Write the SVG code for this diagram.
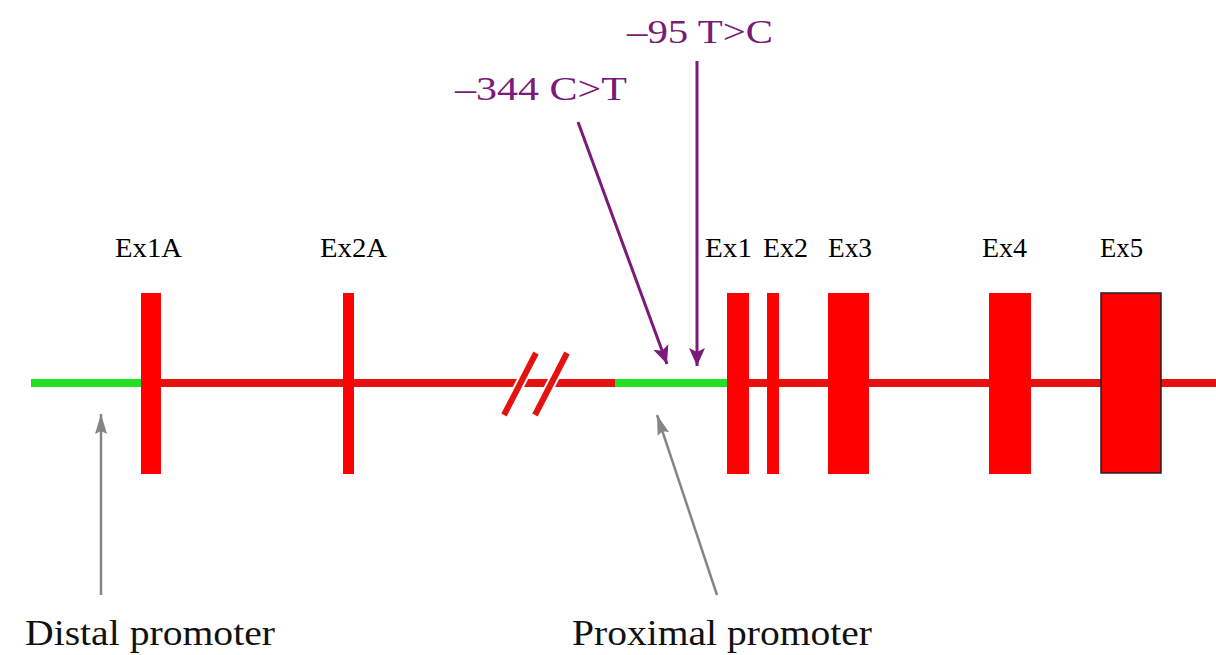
<svg xmlns="http://www.w3.org/2000/svg" width="1216" height="655" viewBox="0 0 1216 655">
<style>
.lbl{font-family:"Liberation Serif","Times New Roman",serif;font-size:27px;fill:#000}
.mut{font-family:"Liberation Serif","Times New Roman",serif;font-size:34px;fill:#7a1a7a}
.prom{font-family:"Liberation Serif","Times New Roman",serif;font-size:36px;fill:#111}
.exon{fill:#ff0000}
.red{stroke:#e51212;stroke-width:8;fill:none}
.green{stroke:#22e022;stroke-width:8;fill:none}
.purple{stroke:#7a1a7a;stroke-width:3;fill:none}
.gray{stroke:#858585;stroke-width:2.5;fill:none}
</style>
<defs>
<marker id="ap" markerUnits="userSpaceOnUse" markerWidth="18" markerHeight="18" viewBox="0 0 18 18" refX="18" refY="9" orient="auto">
<path d="M0,1 L18,9 L0,17 L4,9 Z" fill="#7a1a7a"/>
</marker>
<marker id="ag" markerUnits="userSpaceOnUse" markerWidth="20" markerHeight="14" viewBox="0 0 20 14" refX="20" refY="7" orient="auto">
<path d="M0,1 L20,7 L0,13 L3,7 Z" fill="#858585"/>
</marker>
</defs>
<rect width="1216" height="655" fill="#fff"/>
<g id="gene-line">
<line class="green" x1="31" y1="383" x2="141" y2="383"/>
<line class="red" x1="141" y1="383" x2="615" y2="383"/>
<line class="green" x1="615" y1="383" x2="727" y2="383"/>
<line class="red" x1="727" y1="383" x2="1216" y2="383"/>
</g>
<g id="break">
<line x1="536" y1="353" x2="504" y2="415" stroke="#fff" stroke-width="10"/>
<line x1="567" y1="353" x2="535" y2="415" stroke="#fff" stroke-width="10"/>
<line x1="536" y1="353" x2="504" y2="415" stroke="#e51212" stroke-width="6"/>
<line x1="567" y1="353" x2="535" y2="415" stroke="#e51212" stroke-width="6"/>
</g>
<g id="Ex1A"><rect class="exon" x="141" y="293" width="20" height="181"/><text class="lbl" x="115" y="257" textLength="67" lengthAdjust="spacingAndGlyphs">Ex1A</text></g>
<g id="Ex2A"><rect class="exon" x="343" y="293" width="11" height="181"/><text class="lbl" x="320" y="257" textLength="67" lengthAdjust="spacingAndGlyphs">Ex2A</text></g>
<g id="Ex1"><rect class="exon" x="727" y="293" width="22" height="181"/><text class="lbl" x="705" y="257" textLength="47" lengthAdjust="spacingAndGlyphs">Ex1</text></g>
<g id="Ex2"><rect class="exon" x="767" y="293" width="12" height="181"/><text class="lbl" x="763" y="257" textLength="45" lengthAdjust="spacingAndGlyphs">Ex2</text></g>
<g id="Ex3"><rect class="exon" x="828" y="293" width="41" height="181"/><text class="lbl" x="828" y="257" textLength="44" lengthAdjust="spacingAndGlyphs">Ex3</text></g>
<g id="Ex4"><rect class="exon" x="989" y="293" width="42" height="181"/><text class="lbl" x="982" y="257" textLength="45" lengthAdjust="spacingAndGlyphs">Ex4</text></g>
<g id="Ex5"><rect class="exon" x="1101" y="293" width="60" height="180" stroke="#222" stroke-width="1.5"/><text class="lbl" x="1100" y="257" textLength="43" lengthAdjust="spacingAndGlyphs">Ex5</text></g>
<g id="mut344"><text class="mut" x="455" y="100" textLength="172" lengthAdjust="spacingAndGlyphs">–344 C&gt;T</text></g>
<g id="mut95"><text class="mut" x="627" y="43" textLength="146" lengthAdjust="spacingAndGlyphs">–95 T&gt;C</text></g>
<g id="distal"><text class="prom" x="25" y="645" textLength="250" lengthAdjust="spacingAndGlyphs">Distal promoter</text></g>
<g id="proximal"><text class="prom" x="572" y="645" textLength="300" lengthAdjust="spacingAndGlyphs">Proximal promoter</text></g>
<g id="connectors">
<line class="purple" x1="578" y1="122" x2="667" y2="364" marker-end="url(#ap)"/>
<line class="purple" x1="697" y1="61" x2="697" y2="366" marker-end="url(#ap)"/>
<line class="gray" x1="101" y1="595" x2="101" y2="414" marker-end="url(#ag)"/>
<line class="gray" x1="717" y1="595" x2="657" y2="415" marker-end="url(#ag)"/>
</g>
</svg>
